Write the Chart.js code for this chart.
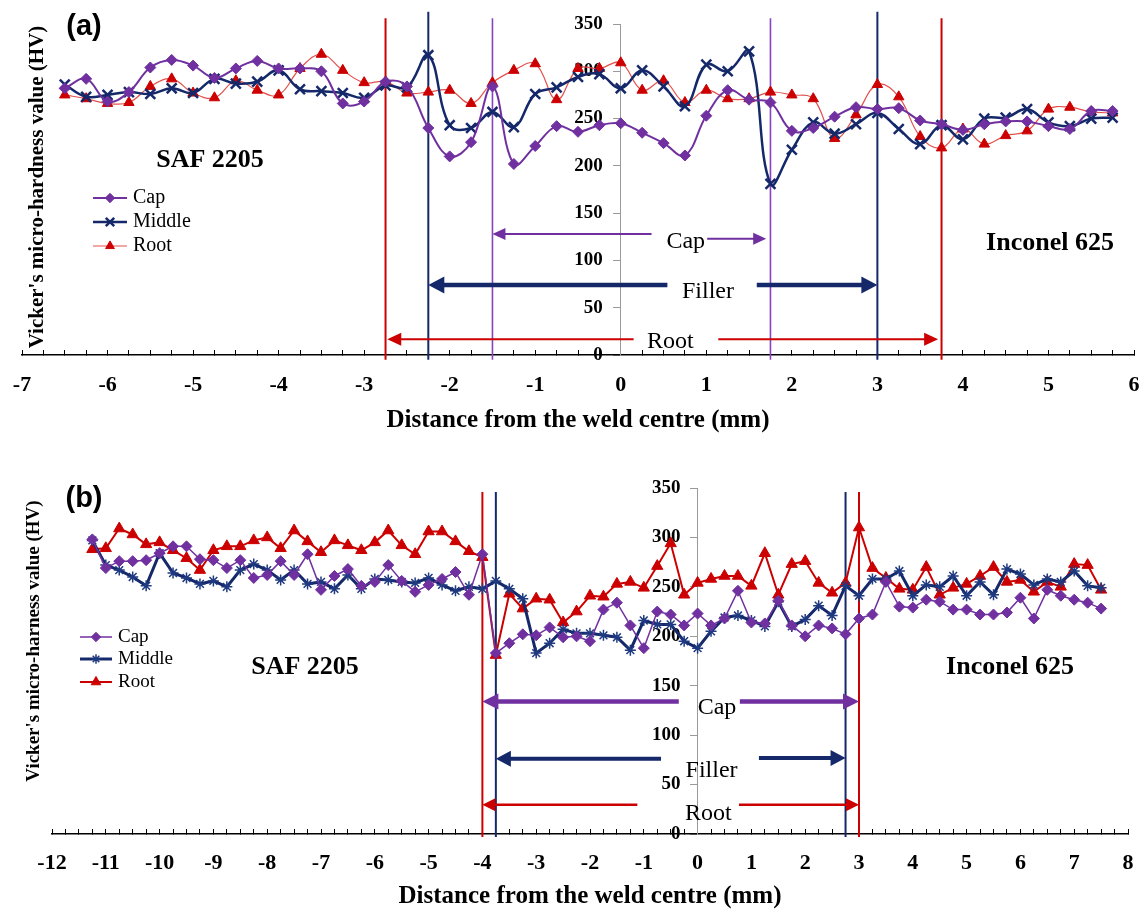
<!DOCTYPE html>
<html lang="en">
<head>
<meta charset="utf-8" />
<title>Micro-hardness profiles across the weld</title>
<script src="https://cdn.jsdelivr.net/npm/chart.js"></script>
<style>
  html, body { margin: 0; padding: 0; background: #fff; }
  body { width: 1146px; height: 914px; position: relative; overflow: hidden; }
  .panel { position: absolute; left: 0; width: 1146px; }
  #panelA { top: 0; height: 450px; }
  #panelB { top: 450px; height: 464px; }
</style>
</head>
<body>
<div class="panel" id="panelA"><canvas id="chartA"></canvas></div>
<div class="panel" id="panelB"><canvas id="chartB"></canvas></div>

<script>
// ---------- panel (a) data ----------
const distA = [-6.5, -6.25, -6, -5.75, -5.5, -5.25, -5, -4.75, -4.5, -4.25,
               -4, -3.75, -3.5, -3.25, -3, -2.75, -2.5, -2.25, -2, -1.75,
               -1.5, -1.25, -1, -0.75, -0.5, -0.25, 0, 0.25, 0.5, 0.75,
               1, 1.25, 1.5, 1.75, 2, 2.25, 2.5, 2.75, 3, 3.25,
               3.5, 3.75, 4, 4.25, 4.5, 4.75, 5, 5.25, 5.5, 5.75];
const capA = [282, 292, 268, 278, 304, 312, 306, 293, 303, 311,
              303, 303, 300, 266, 268, 289, 284, 240, 210, 225,
              284, 202, 221, 242, 236, 243, 245, 235, 224, 211,
              253, 280, 270, 267, 237, 240, 252, 262, 260, 261,
              248, 244, 238, 244, 247, 247, 242, 239, 258, 258];
const middleA = [286, 273, 275, 278, 276, 282, 277, 292, 287, 289,
                 301, 281, 279, 277, 272, 285, 283, 317, 243, 240,
                 257, 241, 276, 283, 294, 297, 282, 301, 284, 263,
                 307, 300, 321, 181, 217, 246, 234, 244, 256, 239,
                 223, 243, 228, 250, 251, 260, 246, 242, 250, 251];
const rootA = [275, 271, 266, 267, 284, 292, 277, 272, 290, 280,
               275, 303, 318, 301, 288, 289, 277, 278, 280, 266,
               288, 301, 308, 270, 303, 303, 309, 280, 290, 267,
               280, 271, 271, 278, 275, 271, 229, 254, 286, 273,
               231, 219, 239, 223, 232, 237, 260, 262, 257, 256];
// zone boundaries (mm)
const rootZoneA = [-2.75, 3.75];
const fillerZoneA = [-2.25, 3.0];
const capZoneA = [-1.5, 1.75];

// ---------- panel (b) data ----------
const distB = [-11.25, -11, -10.75, -10.5, -10.25, -10, -9.75, -9.5, -9.25, -9,
               -8.75, -8.5, -8.25, -8, -7.75, -7.5, -7.25, -7, -6.75, -6.5,
               -6.25, -6, -5.75, -5.5, -5.25, -5, -4.75, -4.5, -4.25, -4,
               -3.75, -3.5, -3.25, -3, -2.75, -2.5, -2.25, -2, -1.75, -1.5,
               -1.25, -1, -0.75, -0.5, -0.25, 0, 0.25, 0.5, 0.75, 1,
               1.25, 1.5, 1.75, 2, 2.25, 2.5, 2.75, 3, 3.25, 3.5,
               3.75, 4, 4.25, 4.5, 4.75, 5, 5.25, 5.5, 5.75, 6,
               6.25, 6.5, 6.75, 7, 7.25, 7.5];
const capB = [298, 269, 276, 276, 277, 284, 291, 291, 278, 277,
              269, 277, 259, 262, 276, 262, 283, 247, 261, 268,
              251, 255, 272, 256, 245, 252, 258, 265, 242, 283,
              183, 193, 202, 201, 209, 199, 200, 195, 227, 234,
              211, 188, 225, 222, 211, 223, 211, 218, 246, 214,
              213, 236, 211, 200, 211, 208, 202, 218, 222, 255,
              230, 229, 237, 235, 227, 227, 222, 222, 224, 239,
              218, 247, 241, 237, 234, 228];
const middleB = [297, 272, 267, 260, 251, 284, 264, 259, 253, 256,
                 250, 267, 273, 267, 257, 267, 253, 255, 248, 262,
                 248, 258, 257, 255, 254, 259, 252, 246, 250, 248,
                 256, 248, 238, 183, 193, 207, 203, 203, 201, 199,
                 186, 216, 212, 212, 195, 188, 205, 219, 221, 216,
                 210, 235, 210, 217, 231, 221, 251, 241, 258, 258,
                 266, 241, 252, 250, 261, 241, 255, 242, 268, 263,
                 252, 258, 255, 266, 251, 249];
const rootB = [288, 289, 309, 303, 293, 295, 287, 279, 267, 287,
               291, 291, 297, 300, 289, 307, 296, 285, 297, 292,
               287, 295, 307, 292, 283, 306, 306, 296, 286, 280,
               181, 243, 228, 238, 237, 214, 225, 241, 240, 253,
               255, 249, 271, 294, 242, 254, 258, 261, 261, 251,
               284, 242, 273, 276, 254, 244, 254, 310, 269, 259,
               248, 247, 270, 242, 249, 253, 261, 270, 255, 257,
               245, 255, 250, 273, 272, 247];
const rootZoneB = [-4.0, 3.0];
const fillerZoneB = [-3.75, 2.75];
const capZoneB = [-4.0, 3.0];

const seriesNames = ['Cap', 'Middle', 'Root'];
const xTitle = 'Distance from the weld centre (mm)';

// ---------- styling ----------
const PURPLE = '#7030A0';
const PURPLE_LINE = '#8644C4';
const NAVY = '#14286A';
const RED = '#CC0000';
const SERIF = "'Liberation Serif', 'Times New Roman', serif";
const SANS = "'Liberation Sans', Arial, sans-serif";

function toPoints(xs, ys) {
  return xs.map((d, i) => ({ x: d, y: ys[i] }));
}

function arrowHead(ctx, tip, y, dir, len, hw) {
  ctx.beginPath();
  ctx.moveTo(tip, y);
  ctx.lineTo(tip - dir * len, y - hw);
  ctx.lineTo(tip - dir * len, y + hw);
  ctx.closePath();
  ctx.fill();
}

function overlayPlugin(cfg) {
  return {
    id: 'overlay',
    beforeDatasetsDraw(chart) {
      const ctx = chart.ctx, x = chart.scales.x, y = chart.scales.y;
      ctx.save();
      cfg.zones.forEach(z => {
        ctx.strokeStyle = z.color;
        ctx.lineWidth = z.width;
        z.at.forEach(v => {
          const px = x.getPixelForValue(v);
          ctx.beginPath();
          ctx.moveTo(px, y.getPixelForValue(z.top));
          ctx.lineTo(px, y.getPixelForValue(z.bottom));
          ctx.stroke();
        });
      });
      ctx.restore();
    },
    afterDraw(chart) {
      const ctx = chart.ctx, x = chart.scales.x, y = chart.scales.y;
      ctx.save();

      // zone arrows with their labels
      cfg.arrows.forEach(a => {
        const yl = y.getPixelForValue(a.yLeft), yr = y.getPixelForValue(a.yRight);
        const tl = x.getPixelForValue(a.from), el = x.getPixelForValue(a.gapFrom);
        const sr = x.getPixelForValue(a.gapTo), tr = x.getPixelForValue(a.to);
        ctx.strokeStyle = a.color;
        ctx.fillStyle = a.color;
        ctx.lineWidth = a.width;
        ctx.beginPath();
        ctx.moveTo(tl + a.head[0] - 1, yl);
        ctx.lineTo(el, yl);
        ctx.moveTo(sr, yr);
        ctx.lineTo(tr - a.head[0] + 1, yr);
        ctx.stroke();
        arrowHead(ctx, tl, yl, -1, a.head[0], a.head[1]);
        arrowHead(ctx, tr, yr, 1, a.head[0], a.head[1]);
        ctx.fillStyle = '#000';
        ctx.font = cfg.arrowFont;
        ctx.textAlign = 'center';
        ctx.textBaseline = 'middle';
        ctx.fillText(a.label, x.getPixelForValue(a.labelX), y.getPixelForValue(a.labelY));
      });

      // free text
      cfg.texts.forEach(t => {
        ctx.save();
        ctx.fillStyle = '#000';
        ctx.font = t.font;
        ctx.textAlign = 'center';
        ctx.textBaseline = 'middle';
        ctx.translate(t.x, t.y);
        if (t.rotate) ctx.rotate(t.rotate);
        ctx.fillText(t.text, 0, 0);
        ctx.restore();
      });

      // legend
      const lg = cfg.legend;
      chart.data.datasets.forEach((ds, i) => {
        const ly = lg.ys[i];
        ctx.strokeStyle = ds.borderColor;
        ctx.lineWidth = ds.borderWidth;
        ctx.beginPath();
        ctx.moveTo(lg.x1, ly);
        ctx.lineTo(lg.x2, ly);
        ctx.stroke();
        ctx.fillStyle = ds.pointBackgroundColor;
        ctx.strokeStyle = ds.pointBorderColor;
        ctx.lineWidth = ds.pointBorderWidth;
        const opts = { pointStyle: ds.pointStyle, radius: ds.pointRadius * 0.85, rotation: 0, borderWidth: ds.pointBorderWidth };
        if (Chart.helpers && Chart.helpers.drawPoint) {
          Chart.helpers.drawPoint(ctx, opts, (lg.x1 + lg.x2) / 2, ly);
        }
        ctx.fillStyle = '#000';
        ctx.font = lg.font;
        ctx.textAlign = 'left';
        ctx.textBaseline = 'middle';
        ctx.fillText(ds.label, lg.textX, ly);
      });
      ctx.restore();
    }
  };
}

function buildOptions(p) {
  return {
    responsive: true,
    maintainAspectRatio: false,
    animation: false,
    devicePixelRatio: 1,
    layout: { padding: p.padding },
    plugins: { legend: { display: false }, tooltip: { enabled: false } },
    scales: {
      x: {
        type: 'linear',
        position: 'bottom',
        min: p.xMin,
        max: p.xMax,
        afterFit: s => {
          s.height = p.xAxisHeight;
          // keep the plot edges where the layout padding puts them
          s.paddingLeft = 0;
          s.paddingRight = 0;
        },
        ticks: {
          stepSize: 0.25,
          autoSkip: false,
          maxRotation: 0,
          padding: p.xTickPad,
          color: '#000',
          font: { family: SERIF, size: 22, weight: 'bold' },
          callback: v => (Number.isInteger(v) ? String(v) : '')
        },
        grid: { display: true, drawOnChartArea: false, drawTicks: true, tickLength: -5, color: '#000', lineWidth: 1 },
        border: { display: true, color: '#000', width: 1.5 },
        title: {
          display: true,
          text: xTitle,
          color: '#000',
          font: { family: SERIF, size: p.xTitleSize, weight: 'bold' },
          padding: { top: 0, bottom: p.xTitlePad }
        }
      },
      y: {
        type: 'linear',
        axis: 'y',
        position: { x: 0 },
        min: 0,
        max: 350,
        ticks: { stepSize: 50, display: false },
        grid: { display: true, drawOnChartArea: false, drawTicks: true, tickLength: 7, color: '#9A9A9A' },
        border: { display: true, color: '#9A9A9A', width: 1 }
      },
      yLabels: {
        type: 'linear',
        axis: 'y',
        position: { x: p.yLabelAt },
        min: 0,
        max: 350,
        ticks: { stepSize: 50, color: '#000', font: { family: SERIF, size: 19, weight: 'bold' } },
        grid: { display: false },
        border: { display: false }
      }
    }
  };
}

// ---------- chart (a) ----------
new Chart(document.getElementById('chartA'), {
  type: 'line',
  data: {
    datasets: [
      { label: seriesNames[0], data: toPoints(distA, capA), tension: 0.4,
        borderColor: PURPLE, borderWidth: 2, pointStyle: 'rectRot', pointRadius: 5.5,
        pointBackgroundColor: PURPLE, pointBorderColor: PURPLE, pointBorderWidth: 1 },
      { label: seriesNames[1], data: toPoints(distA, middleA), tension: 0.4,
        borderColor: NAVY, borderWidth: 2.5, pointStyle: 'crossRot', pointRadius: 7,
        pointBackgroundColor: NAVY, pointBorderColor: NAVY, pointBorderWidth: 2.5 },
      { label: seriesNames[2], data: toPoints(distA, rootA), tension: 0.4,
        borderColor: '#E2504C', borderWidth: 1.2, pointStyle: 'triangle', pointRadius: 6,
        pointBackgroundColor: RED, pointBorderColor: RED, pointBorderWidth: 1 }
    ]
  },
  options: buildOptions({
    padding: { left: 22, right: 12, top: 24, bottom: 0 },
    xMin: -7, xMax: 6, xAxisHeight: 95, xTickPad: 22, xTitlePad: 14, xTitleSize: 25, yLabelAt: -0.21
  }),
  plugins: [overlayPlugin({
    zones: [
      { at: rootZoneA, color: RED, width: 2, top: 356, bottom: -5 },
      { at: fillerZoneA, color: NAVY, width: 2, top: 363, bottom: -5 },
      { at: capZoneA, color: PURPLE_LINE, width: 1.6, top: 356, bottom: -5 }
    ],
    arrowFont: '24px ' + SERIF,
    arrows: [
      { label: 'Cap', color: PURPLE, width: 2, from: capZoneA[0], to: 1.70, gapFrom: 0.36, gapTo: 1.01,
        yLeft: 128, yRight: 123, head: [13, 6], labelX: 0.76, labelY: 119.5 },
      { label: 'Filler', color: NAVY, width: 4.5, from: fillerZoneA[0], to: fillerZoneA[1], gapFrom: 0.545, gapTo: 1.59,
        yLeft: 74, yRight: 74, head: [16, 8.5], labelX: 1.02, labelY: 67 },
      { label: 'Root', color: RED, width: 2, from: -2.73, to: 3.71, gapFrom: 0.15, gapTo: 1.14,
        yLeft: 16.7, yRight: 16.7, head: [14, 6.5], labelX: 0.58, labelY: 14 }
    ],
    texts: [
      { text: '(a)', x: 84, y: 27, font: 'bold 29px ' + SANS },
      { text: 'SAF 2205', x: 210, y: 160, font: 'bold 26px ' + SERIF },
      { text: 'Inconel 625', x: 1050, y: 243, font: 'bold 26px ' + SERIF },
      { text: "Vicker's micro-hardness value (HV)", x: 38, y: 187, rotate: -Math.PI / 2, font: 'bold 21px ' + SERIF }
    ],
    legend: { x1: 93, x2: 127, textX: 133, ys: [198, 222, 246], font: '20px ' + SERIF }
  })]
});

// ---------- chart (b) ----------
new Chart(document.getElementById('chartB'), {
  type: 'line',
  data: {
    datasets: [
      { label: seriesNames[0], data: toPoints(distB, capB), tension: 0,
        borderColor: PURPLE, borderWidth: 1.5, pointStyle: 'rectRot', pointRadius: 5.5,
        pointBackgroundColor: PURPLE, pointBorderColor: PURPLE, pointBorderWidth: 1 },
      { label: seriesNames[1], data: toPoints(distB, middleB), tension: 0,
        borderColor: NAVY, borderWidth: 3, pointStyle: 'star', pointRadius: 5.5,
        pointBackgroundColor: NAVY, pointBorderColor: '#1F3A80', pointBorderWidth: 1.5 },
      { label: seriesNames[2], data: toPoints(distB, rootB), tension: 0,
        borderColor: RED, borderWidth: 2, pointStyle: 'triangle', pointRadius: 6.5,
        pointBackgroundColor: RED, pointBorderColor: RED, pointBorderWidth: 1 }
    ]
  },
  options: buildOptions({
    padding: { left: 52, right: 18, top: 38, bottom: 0 },
    xMin: -12, xMax: 8, xAxisHeight: 80, xTickPad: 21, xTitlePad: 2, xTitleSize: 25, yLabelAt: -0.32
  }),
  plugins: [overlayPlugin({
    zones: [
      { at: rootZoneB, color: RED, width: 2, top: 346, bottom: -3 },
      { at: fillerZoneB, color: NAVY, width: 2, top: 346, bottom: -3 }
    ],
    arrowFont: '24px ' + SERIF,
    arrows: [
      { label: 'Cap', color: PURPLE, width: 4.5, from: capZoneB[0], to: capZoneB[1], gapFrom: -0.35, gapTo: 0.785,
        yLeft: 134, yRight: 134, head: [16, 8], labelX: 0.36, labelY: 128 },
      { label: 'Filler', color: NAVY, width: 4, from: fillerZoneB[0], to: fillerZoneB[1], gapFrom: -0.68, gapTo: 1.14,
        yLeft: 76, yRight: 77, head: [15, 8], labelX: 0.26, labelY: 64.5 },
      { label: 'Root', color: RED, width: 2.5, from: rootZoneB[0], to: rootZoneB[1], gapFrom: -1.12, gapTo: 0.77,
        yLeft: 29.5, yRight: 29.5, head: [13, 6.5], labelX: 0.2, labelY: 21 }
    ],
    texts: [
      { text: '(b)', x: 84, y: 49, font: 'bold 29px ' + SANS },
      { text: 'SAF 2205', x: 305, y: 217, font: 'bold 26px ' + SERIF },
      { text: 'Inconel 625', x: 1010, y: 217, font: 'bold 26px ' + SERIF },
      { text: "Vicker's micro-harness value (HV)", x: 34, y: 191, rotate: -Math.PI / 2, font: 'bold 19px ' + SERIF }
    ],
    legend: { x1: 80, x2: 112, textX: 118, ys: [187, 209, 232], font: '19px ' + SERIF }
  })]
});
</script>
</body>
</html>
